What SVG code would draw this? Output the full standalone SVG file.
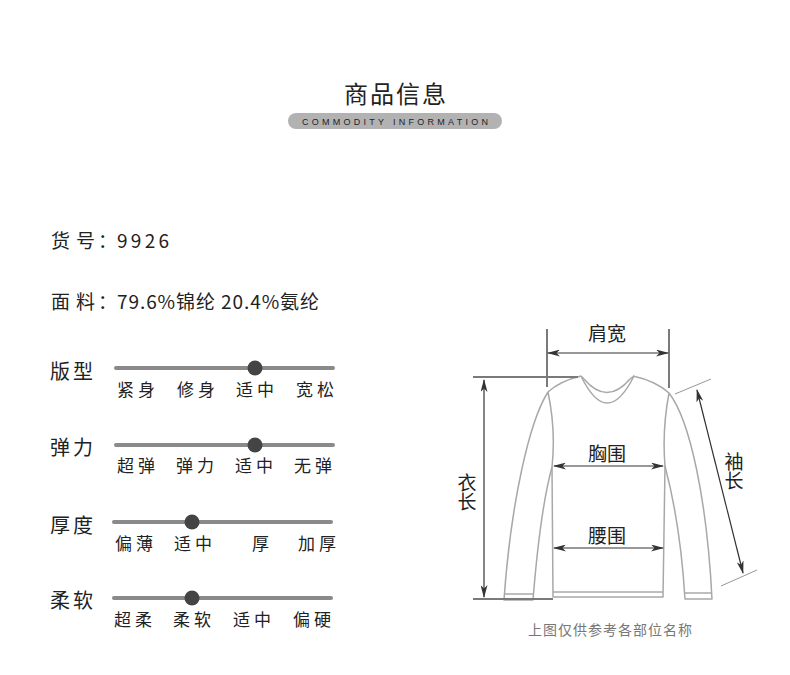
<svg xmlns="http://www.w3.org/2000/svg" width="790" height="675" viewBox="0 0 790 675">
<defs>
<style>
.cjk{font-family:"Noto Sans CJK SC","Noto Sans",sans-serif;fill:#222}
.lbl{font-size:20px;letter-spacing:3px}
.opt{font-size:17px;letter-spacing:4px}
.track{stroke:#8a8a8a;stroke-width:4;stroke-linecap:round}
.dot{fill:#444}
.sw{fill:none;stroke:#a8a8a8;stroke-width:1.5;stroke-linejoin:round}
.dim{stroke:#7a7a7a;stroke-width:2;fill:none}
.arr{stroke:#333;stroke-width:1.2;fill:none;marker-start:url(#ah);marker-end:url(#ah)}
.tick{stroke:#8a8a8a;stroke-width:0.9}
.dlab{font-size:19px;fill:#222}
.vert{writing-mode:tb;glyph-orientation-vertical:0}
</style>
<marker id="ah" markerUnits="userSpaceOnUse" markerWidth="13" markerHeight="7" refX="12" refY="3.5" orient="auto-start-reverse">
<path d="M0,0 L13,3.5 L0,7 L3.5,3.5 Z" fill="#333"/>
</marker>
</defs>
<rect width="790" height="675" fill="#fff"/>

<g id="title">
<text class="cjk" x="344" y="103" font-size="24" letter-spacing="2">商品信息</text>
<rect x="288" y="113" width="214" height="16" rx="8" fill="#b2b2b2"/>
<text x="302" y="125" font-family="'Liberation Sans',Arial,sans-serif" font-size="9" fill="#222" textLength="186" lengthAdjust="spacing">COMMODITY INFORMATION</text>
</g>

<g id="info-sku">
<text class="cjk" y="248" font-size="19"><tspan x="51">货</tspan><tspan x="76">号</tspan><tspan x="98">：</tspan><tspan x="117" textLength="52" lengthAdjust="spacing">9926</tspan></text>
</g>
<g id="info-fabric">
<text class="cjk" y="309" font-size="19"><tspan x="51">面</tspan><tspan x="76">料</tspan><tspan x="98">：</tspan><tspan x="117" textLength="202" lengthAdjust="spacing">79.6%锦纶 20.4%氨纶</tspan></text>
</g>

<g id="slider-fit">
<text class="cjk lbl" x="50" y="379">版型</text>
<line class="track" x1="116" y1="368" x2="333" y2="368"/>
<circle class="dot" cx="255" cy="368" r="7.5"/>
<text class="cjk opt" y="396"><tspan x="117">紧身</tspan><tspan x="177">修身</tspan><tspan x="236">适中</tspan><tspan x="296">宽松</tspan></text>
</g>

<g id="slider-elastic">
<text class="cjk lbl" x="50" y="455">弹力</text>
<line class="track" x1="116" y1="445" x2="333" y2="445"/>
<circle class="dot" cx="255" cy="445" r="7.5"/>
<text class="cjk opt" y="472"><tspan x="117">超弹</tspan><tspan x="176">弹力</tspan><tspan x="235">适中</tspan><tspan x="294">无弹</tspan></text>
</g>

<g id="slider-thick">
<text class="cjk lbl" x="50" y="533">厚度</text>
<line class="track" x1="114" y1="522" x2="331" y2="522"/>
<circle class="dot" cx="192" cy="522" r="7.5"/>
<text class="cjk opt" y="550"><tspan x="115">偏薄</tspan><tspan x="174">适中</tspan><tspan x="252">厚</tspan><tspan x="298">加厚</tspan></text>
</g>

<g id="slider-soft">
<text class="cjk lbl" x="50" y="608">柔软</text>
<line class="track" x1="114" y1="598" x2="331" y2="598"/>
<circle class="dot" cx="192" cy="598" r="7.5"/>
<text class="cjk opt" y="626"><tspan x="114">超柔</tspan><tspan x="173">柔软</tspan><tspan x="233">适中</tspan><tspan x="293">偏硬</tspan></text>
</g>

<g id="sweater">
<path class="sw" d="M581,376 Q560,381 548,392 C530,420 511,500 504,600 L533,600 C537,550 543,500 552,467 Q556,430 548,392"/>
<line class="sw" x1="505" y1="594" x2="533" y2="594"/>
<path class="sw" d="M633,376 Q656,381 669,393 C690,420 707,500 712,599 L685,599 C682,550 674,500 665,466 Q662,430 669,393"/>
<line class="sw" x1="685" y1="593" x2="712" y2="593"/>
<path class="sw" d="M552,467 L553,597 L663,597 L665,466"/>
<line class="sw" x1="553" y1="592" x2="663" y2="592"/>
<path class="sw" d="M581,376 Q607,430 634,376"/>
<path class="sw" d="M584,379 Q607,406 630,379"/>
<path class="sw" d="M581,376 L584,379 M634,376 L630,379"/>
</g>

<g id="connectors">
<line class="dim" x1="547" y1="329" x2="547" y2="387"/>
<line class="dim" x1="669" y1="329" x2="669" y2="388"/>
<line class="dim" x1="473" y1="377" x2="578" y2="377"/>
<line class="dim" x1="473" y1="599" x2="553" y2="599"/>
<line class="tick" x1="675" y1="394" x2="711" y2="379"/>
<line class="tick" x1="721" y1="586" x2="757" y2="570"/>
<line class="arr" x1="548" y1="353" x2="668" y2="353"/>
<line class="arr" x1="484" y1="380" x2="484" y2="597"/>
<line class="arr" x1="554" y1="466" x2="663" y2="466"/>
<line class="arr" x1="554" y1="548" x2="663" y2="548"/>
<line class="arr" x1="697" y1="390" x2="743" y2="573"/>
</g>

<g id="dim-labels">
<text class="cjk dlab" x="607" y="341" text-anchor="middle">肩宽</text>
<text class="cjk dlab" x="607" y="461" text-anchor="middle">胸围</text>
<text class="cjk dlab" x="607" y="543" text-anchor="middle">腰围</text>
<text class="cjk dlab vert" x="467" y="473">衣长</text>
<text class="cjk dlab vert" x="734" y="452">袖长</text>
<text class="cjk" x="528" y="635" font-size="14" style="fill:#777" textLength="164" lengthAdjust="spacing">上图仅供参考各部位名称</text>
</g>
</svg>
